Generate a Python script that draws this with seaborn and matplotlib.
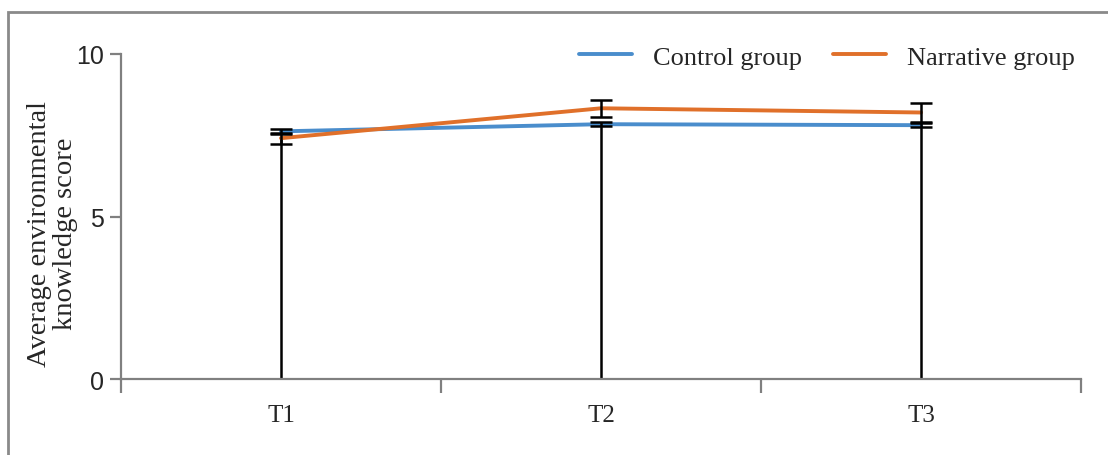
import matplotlib
matplotlib.use("Agg")
import matplotlib.pyplot as plt
import seaborn as sns
import pandas as pd
import numpy as np
from matplotlib.patches import Rectangle

# ---- data ----
times = ["T1", "T2", "T3"]
control_mean = [7.62, 7.84, 7.81]
control_err = [0.08, 0.07, 0.06]
narrative_mean = [7.41, 8.33, 8.20]
narrative_err = [0.17, 0.27, 0.28]
groups = ["Control group", "Narrative group"]
colors = ["#4a8dcc", "#e0702a"]

df = pd.DataFrame({
    "time": times * 2,
    "score": control_mean + narrative_mean,
    "group": [groups[0]] * 3 + [groups[1]] * 3,
})

sns.set_style("white")
plt.rcParams["font.family"] = ["Liberation Serif", "DejaVu Serif"]

fig = plt.figure(figsize=(11.08, 4.56), dpi=100)
ax = fig.add_axes([121 / 1108, 1 - 380 / 456, 960 / 1108, 325 / 456])

xpos = np.arange(len(times))

# drop lines from zero
lows = np.minimum(control_mean, narrative_mean)
ax.vlines(xpos, 0, lows, color="black", lw=1.8, zorder=1)

sns.lineplot(data=df, x="time", y="score", hue="group", palette=colors,
             lw=2.8, ax=ax, zorder=3, sort=False)

for m, e in [(control_mean, control_err), (narrative_mean, narrative_err)]:
    ax.errorbar(xpos, m, yerr=e, fmt="none", ecolor="black", elinewidth=1.8,
                capsize=8, capthick=1.8, zorder=4)

ax.set_xlim(-0.5, 2.5)
ax.set_ylim(0, 10)
ax.set_yticks([0, 5, 10])
ax.set_xticks(xpos)
ax.set_xticks(np.arange(-0.5, 3.0, 1.0), minor=True)
ax.tick_params(axis="x", which="major", bottom=True, length=0, pad=18)
ax.tick_params(axis="x", which="minor", bottom=True, length=10, width=1.6,
               color="#808080", direction="out")
ax.tick_params(axis="y", left=True, length=8, width=1.6, color="#808080",
               direction="out", pad=4)
ax.set_xticklabels(times, fontsize=18, family=["Liberation Serif"])
ax.set_yticklabels(["0", "5", "10"], fontsize=18, family=["Liberation Sans"])

for s in ["top", "right"]:
    ax.spines[s].set_visible(False)
for s in ["left", "bottom"]:
    ax.spines[s].set_color("#808080")
    ax.spines[s].set_linewidth(1.6)

ax.set_xlabel("")
ax.set_ylabel("Average environmental\nknowledge score", fontsize=20.5, linespacing=1.05)
ax.yaxis.set_label_coords(-0.045, 0.45)

leg = ax.legend(loc="upper right", ncol=2, frameon=False, fontsize=19,
                handlelength=2.0, columnspacing=1.2, handletextpad=0.8,
                bbox_to_anchor=(1.005, 1.06), borderaxespad=0.0)
for h in leg.get_lines():
    h.set_linewidth(2.8)

fig.add_artist(Rectangle((8 / 1108, -0.1), 1.2, 1 - 13 / 456 + 0.1,
                         transform=fig.transFigure, fill=False,
                         edgecolor="#8a8a8a", lw=2.0))

fig.savefig("out.png", dpi=100)
